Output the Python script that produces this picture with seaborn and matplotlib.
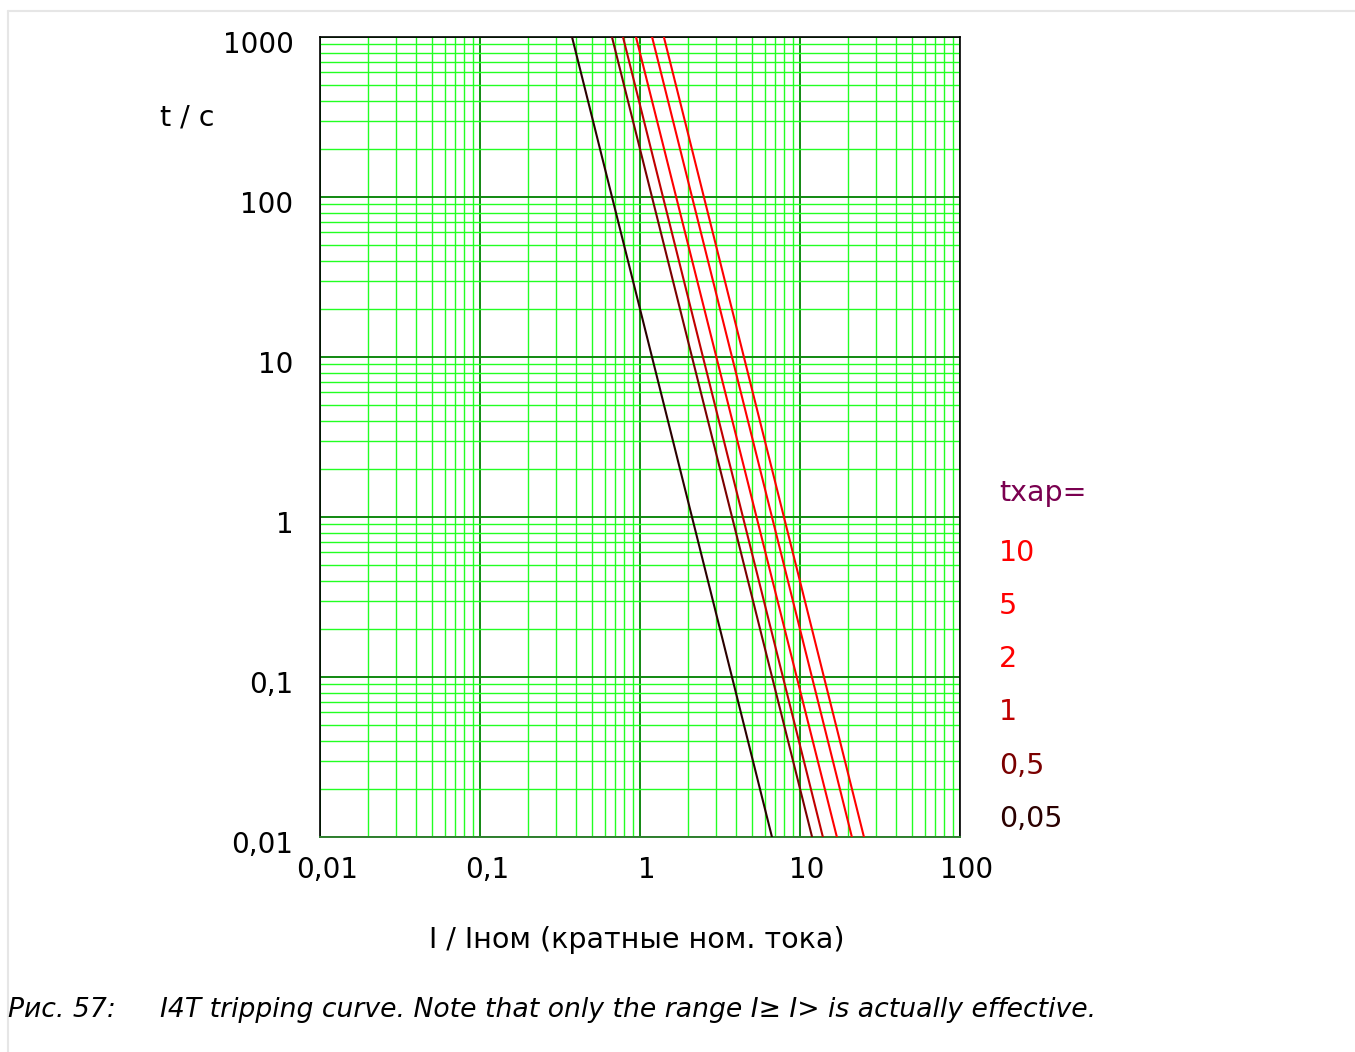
import numpy as np
import pandas as pd
import matplotlib
matplotlib.use("Agg")
import matplotlib.pyplot as plt
import seaborn as sns
from matplotlib.ticker import LogLocator, FixedLocator, NullFormatter
from matplotlib.transforms import ScaledTranslation
from matplotlib.lines import Line2D

# curve end points (I at t = 1000 s and at t = 0.01 s)
tchar = ["0,05", "0,5", "1", "2", "5", "10"]
t_top = [1000, 1000, 1000, 1000, 1000, 1000]
i_top = [0.376, 0.668, 0.783, 0.944, 1.19, 1.41]
t_bottom = [0.01, 0.01, 0.01, 0.01, 0.01, 0.01]
i_bottom = [6.68, 11.9, 13.9, 17.0, 21.1, 25.1]
line_colors = ["#2a0000", "#7a0000", "#c00000", "#ff0000", "#ff0000", "#ff0000"]

tick_vals = [0.01, 0.1, 1, 10, 100, 1000]
tick_text = ["0,01", "0,1", "1", "10", "100", "1000"]

rows = []
for k, name in enumerate(tchar):
    rows.append({"tchar": name, "I": i_top[k], "t": t_top[k]})
    rows.append({"tchar": name, "I": i_bottom[k], "t": t_bottom[k]})
df = pd.DataFrame(rows)

sns.set_style("white")
plt.rcParams["font.family"] = ["DejaVu Sans"]
plt.rcParams["text.color"] = "black"
plt.rcParams["xtick.color"] = "black"
plt.rcParams["ytick.color"] = "black"

fig = plt.figure(figsize=(13.55, 10.52), dpi=100)
ax = fig.add_axes([320 / 1355, 215 / 1052, 640 / 1355, 800 / 1052])

sns.lineplot(data=df, x="I", y="t", hue="tchar", hue_order=tchar,
             palette=dict(zip(tchar, line_colors)), estimator=None,
             sort=False, linewidth=1.5, legend=False, ax=ax, zorder=5)

ax.set_xscale("log")
ax.set_yscale("log")
ax.set_xlim(0.01, 100)
ax.set_ylim(0.01, 1000)

ax.xaxis.set_major_locator(FixedLocator(tick_vals[:5]))
ax.yaxis.set_major_locator(FixedLocator(tick_vals))
ax.xaxis.set_minor_locator(LogLocator(base=10, subs=np.arange(2, 10), numticks=100))
ax.yaxis.set_minor_locator(LogLocator(base=10, subs=np.arange(2, 10), numticks=100))
ax.xaxis.set_minor_formatter(NullFormatter())
ax.yaxis.set_minor_formatter(NullFormatter())
ax.set_xticklabels(tick_text[:5])
ax.set_yticklabels(tick_text)

ax.grid(which="minor", color="#22ff22", linewidth=1.0, zorder=0)
ax.grid(which="major", color="#118811", linewidth=1.4, zorder=1)
ax.set_axisbelow(True)

ax.tick_params(which="both", length=0, colors="black")
ax.tick_params(axis="x", labelsize=20, pad=14)
ax.tick_params(axis="y", labelsize=20, pad=19)
for lab in ax.get_xticklabels():
    lab.set_transform(lab.get_transform() + ScaledTranslation(0.07, 0, fig.dpi_scale_trans))
for lab in ax.get_yticklabels():
    lab.set_transform(lab.get_transform() + ScaledTranslation(0, -0.05, fig.dpi_scale_trans))

for side in ["left", "top", "right"]:
    ax.spines[side].set_color("black")
    ax.spines[side].set_linewidth(1.2)
ax.spines["bottom"].set_color("#2f7f2f")
ax.spines["bottom"].set_linewidth(1.4)

ax.set_xlabel("")
ax.set_ylabel("")
fig.text(160 / 1355, 1 - 117 / 1052, "t / c", fontsize=20.5, ha="left", va="center")
fig.text(637 / 1355, 1 - 940 / 1052, "I / Iном (кратные ном. тока)", fontsize=20.5,
         ha="center", va="center")

# series labels at the right
fig.text(999 / 1355, 1 - 493 / 1052, "tхар=", fontsize=20.5, color="#7a0050",
         ha="left", va="center")
label_y = [819, 766, 712, 659, 606, 553]
for k, name in enumerate(tchar):
    fig.text(999 / 1355, 1 - label_y[k] / 1052, name, fontsize=20.5,
             color=line_colors[k], ha="left", va="center")

# caption
fig.text(8 / 1355, 1 - 1010 / 1052, "Рис. 57:", fontsize=19.2, style="italic",
         ha="left", va="center")
fig.text(160 / 1355, 1 - 1010 / 1052,
         "I4T tripping curve. Note that only the range I≥ I> is actually effective.",
         fontsize=19.2, style="italic", ha="left", va="center")

# page frame
fig.add_artist(Line2D([8 / 1355, 8 / 1355], [0, 1 - 11 / 1052], color="#e6e6e6",
                      linewidth=1.5, transform=fig.transFigure))
fig.add_artist(Line2D([8 / 1355, 1], [1 - 11 / 1052, 1 - 11 / 1052], color="#e6e6e6",
                      linewidth=1.5, transform=fig.transFigure))

fig.savefig("out.png", dpi=100)
